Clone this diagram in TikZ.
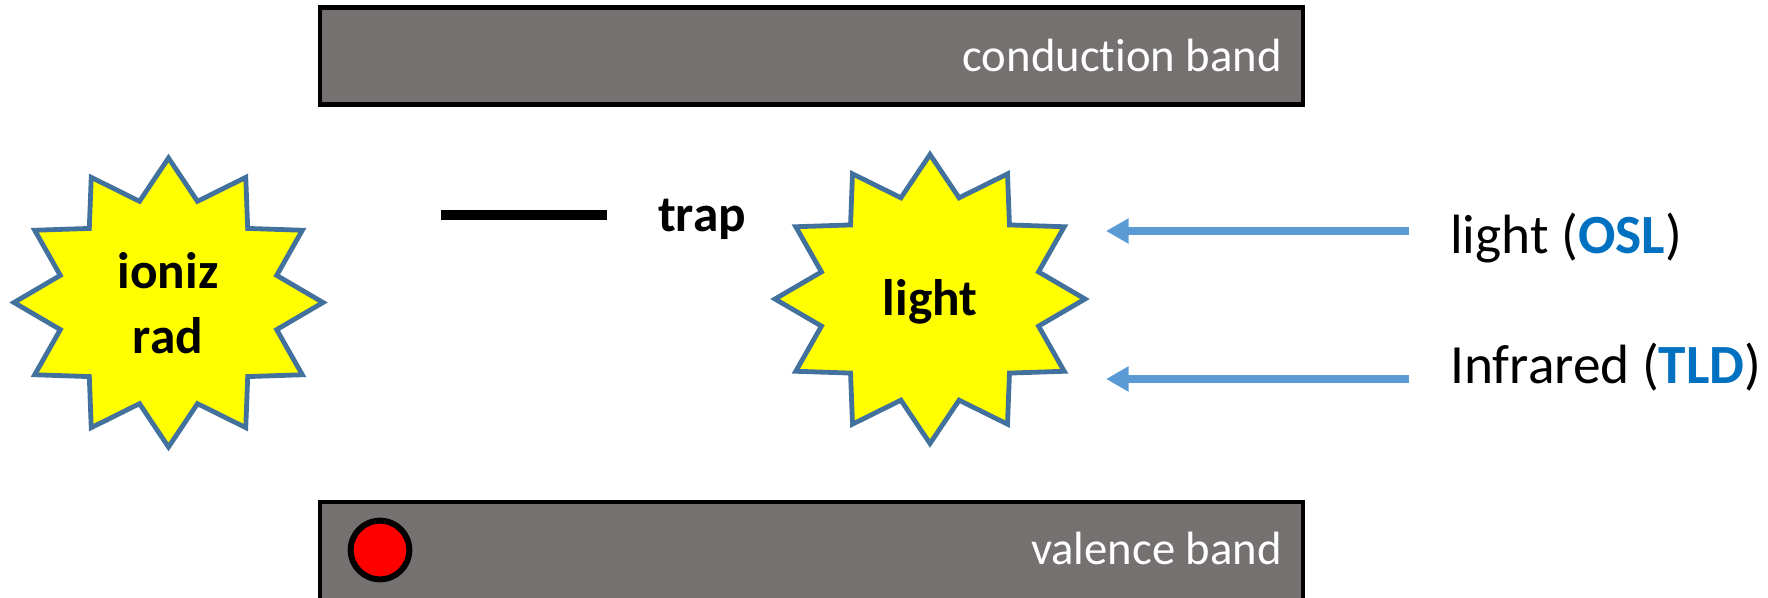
\documentclass[tikz,border=0pt]{standalone}
\usepackage{fontspec}
\setmainfont{Carlito}[Ligatures={NoCommon}]
\usetikzlibrary{arrows.meta}
\definecolor{bandgray}{HTML}{767171}
\definecolor{starline}{HTML}{41719C}
\definecolor{arrblue}{HTML}{5B9BD5}
\definecolor{txtblue}{HTML}{0070C0}
\definecolor{staryellow}{HTML}{FFFF00}
\tikzset{
  bandbox/.style={draw=black, fill=bandgray, line width=3.6pt},
  bandtxt/.style={text=white, font=\fontsize{35}{42}\selectfont, inner sep=0pt, anchor=base east},
  boldtxt/.style={font=\fontsize{38.5}{46}\selectfont\bfseries, inner sep=0pt, anchor=base},
  sidetxt/.style={font=\fontsize{41.5}{50}\selectfont, inner sep=0pt, anchor=base west},
  burst/.style={draw=starline, fill=staryellow, line width=3.6pt, line join=miter},
  arr/.style={draw=arrblue, line width=6pt, -{Triangle[length=17pt,width=18pt]}},
  trapline/.style={line width=8pt, black},
  hole/.style={circle, draw=black, fill=red, line width=4.5pt, minimum size=44pt, inner sep=0pt}
}
\begin{document}
\begin{tikzpicture}[x=0.75pt,y=-0.75pt]
\useasboundingbox (0,0) rectangle (1768,597);
\clip (0,0) rectangle (1768,597);
% bands
\draw[bandbox] (320,7.5) rectangle (1303,104.5);
\draw[bandbox] (320,502) rectangle (1303,640);
\node[bandtxt] (cbt) at (1282,71) {conduction band};
\node[bandtxt] (vbt) at (1282,564) {valence band};
\node[hole] (h) at (380,550) {};
% trap
\coordinate (t1) at (441,215);
\coordinate (t2) at (607,215);
\draw[trapline] (t1) -- (t2);
\node[boldtxt] (trap) at (702,231) {trap};
% stars
\draw[burst] plot[samples at={0,15,...,345}]
  ({168.5+154.5*(1-0.275*mod(round(\x/15),2))*cos(\x)},{302.5+144.5*(1-0.275*mod(round(\x/15),2))*sin(\x)}) -- cycle;
\draw[burst] plot[samples at={0,15,...,345}]
  ({930+155*(1-0.275*mod(round(\x/15),2))*cos(\x)},{299+144.5*(1-0.275*mod(round(\x/15),2))*sin(\x)}) -- cycle;
\node[boldtxt] (ioniz) at (168,288) {ioniz};
\node[boldtxt] (rad) at (168,353) {rad};
\node[boldtxt] (light) at (930,315) {light};
% arrows
\coordinate (a1s) at (1409,231);
\coordinate (a1e) at (1106,231);
\coordinate (a2s) at (1409,379);
\coordinate (a2e) at (1106,379);
\draw[arr] (a1s) -- (a1e);
\draw[arr] (a2s) -- (a2e);
\node[sidetxt] (osl) at (1450,253) {light (\textcolor{txtblue}{\bfseries OSL})};
\node[sidetxt] (tld) at (1450,383) {Infrared (\textcolor{txtblue}{\bfseries TLD})};
\end{tikzpicture}
\end{document}
